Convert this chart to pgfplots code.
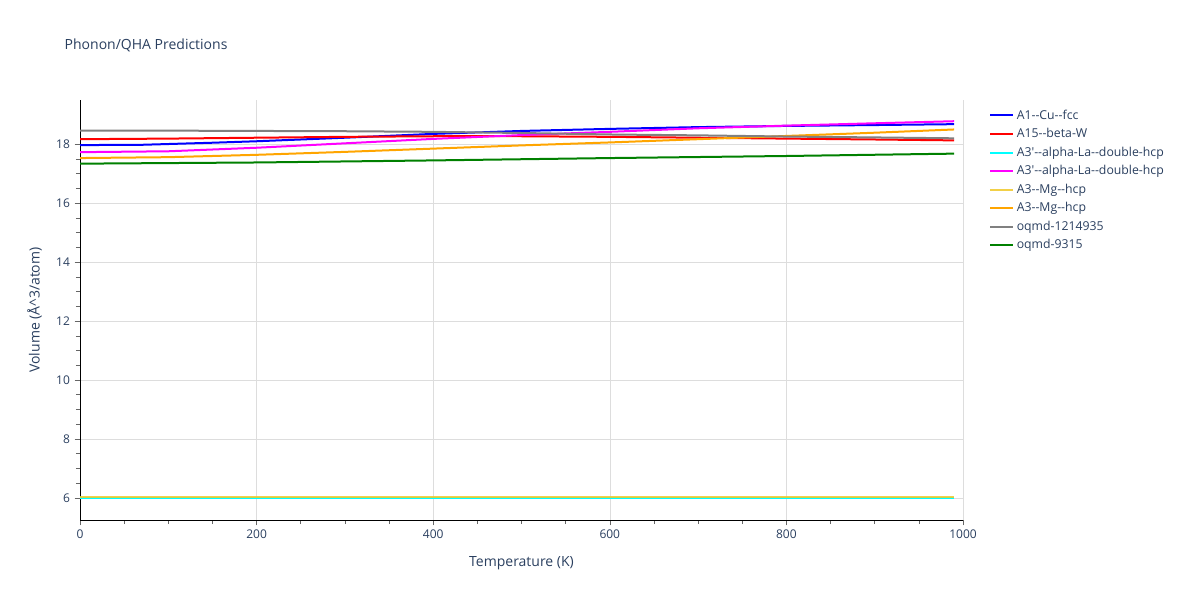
\documentclass[border=0pt]{standalone}
\usepackage{pgfplots}
\pgfplotsset{compat=1.18}
\usepackage{fontspec}
\setmainfont{Open Sans}
\definecolor{txt}{HTML}{2A3F5F}
\definecolor{grd}{HTML}{DDDDDD}
\newcommand{\dd}{-{}-}
\begin{document}
\begin{tikzpicture}
\path[use as bounding box] (0pt,0pt) rectangle (900pt,450pt);
\node[anchor=west,font=\fontsize{10.5}{12}\selectfont,text=txt] at (45pt,416pt) {Phonon/QHA Predictions};
\begin{axis}[
    at={(60pt,60pt)}, anchor=south west,
    scale only axis, width=662.25pt, height=315pt,
    xmin=0, xmax=1000, ymin=5.25, ymax=19.5,
    xtick={0,200,...,1000}, ytick={6,8,...,18},
    minor x tick num=3, minor y tick num=3,
    axis x line*=bottom, axis y line*=left,
    axis line style={black, -},
    tick align=outside, tick pos=left,
    major tick length=4pt, minor tick length=3pt,
    every tick/.style={black!60},
    grid=major, grid style={grd},
    ticklabel style={font=\fontsize{9}{10}\selectfont, text=txt},
    /pgf/number format/assume math mode=true,
    /pgf/number format/set thousands separator={},
    xlabel={Temperature (K)}, ylabel={Volume (Å\textasciicircum 3/atom)},
    label style={font=\fontsize{10.5}{12}\selectfont, text=txt},
    xlabel style={yshift=-6pt}, ylabel style={yshift=4pt},
    legend style={at={(1.025,0.99)}, anchor=north west, draw=none, fill=none,
        font=\fontsize{9.2}{10}\selectfont, text=txt, row sep=1.4pt,
        legend cell align=left},
    legend image post style={line width=1.5pt},
    every axis plot/.append style={line width=1.5pt, no marks},
]
\addplot[color={rgb,255:red,0;green,0;blue,255}] coordinates {
(0,17.97) (70,17.98) (150,18.05) (200,18.1) (300,18.22) (400,18.35) (500,18.45) (600,18.52) (700,18.58) (800,18.62) (900,18.65) (990,18.68)};
\addlegendentry{A1\dd Cu\dd fcc}
\addplot[color={rgb,255:red,255;green,0;blue,0}] coordinates {
(0,18.17) (100,18.19) (200,18.22) (300,18.25) (400,18.27) (500,18.27) (600,18.25) (700,18.22) (800,18.19) (900,18.16) (990,18.13)};
\addlegendentry{A15\dd beta-W}
\addplot[color={rgb,255:red,0;green,255;blue,255}, line width=1.3pt] coordinates {
(0,6.0) (200,6.0) (400,6.0) (600,6.0) (800,6.0) (990,6.0)};
\addlegendentry{A3\textquotesingle\dd alpha-La\dd double-hcp}
\addplot[color={rgb,255:red,255;green,0;blue,255}] coordinates {
(0,17.73) (100,17.76) (200,17.88) (300,18.03) (400,18.18) (500,18.31) (600,18.42) (700,18.54) (800,18.63) (900,18.71) (990,18.78)};
\addlegendentry{A3\textquotesingle\dd alpha-La\dd double-hcp}
\addplot[color={rgb,255:red,240;green,200;blue,40}, line width=1.3pt, opacity=0.85] coordinates {
(0,6.04) (200,6.04) (400,6.04) (600,6.04) (800,6.04) (990,6.04)};
\addlegendentry{A3\dd Mg\dd hcp}
\addplot[color={rgb,255:red,255;green,165;blue,0}] coordinates {
(0,17.53) (100,17.56) (200,17.64) (300,17.74) (400,17.85) (500,17.96) (600,18.06) (700,18.17) (800,18.28) (900,18.39) (990,18.5)};
\addlegendentry{A3\dd Mg\dd hcp}
\addplot[color={rgb,255:red,128;green,128;blue,128}] coordinates {
(0,18.46) (100,18.46) (200,18.45) (300,18.44) (400,18.42) (500,18.38) (600,18.33) (700,18.3) (800,18.26) (900,18.23) (990,18.2)};
\addlegendentry{oqmd-1214935}
\addplot[color={rgb,255:red,0;green,128;blue,0}] coordinates {
(0,17.34) (200,17.38) (400,17.45) (600,17.53) (800,17.6) (990,17.68)};
\addlegendentry{oqmd-9315}
\end{axis}
\end{tikzpicture}
\end{document}
